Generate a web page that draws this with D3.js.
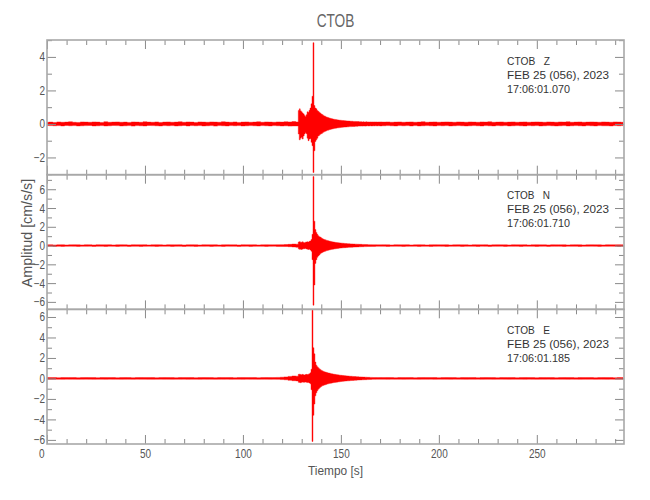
<!DOCTYPE html>
<html><head><meta charset="utf-8">
<script src="https://cdn.jsdelivr.net/npm/d3@7"></script>
<style>
body{margin:0;background:#fff;}
text{font-family:"Liberation Sans",Arial,sans-serif;}
.pre{white-space:pre;}
</style></head><body>
<svg id="c" width="650" height="500"></svg>
<script>
// ---------------- data ----------------
const title = "CTOB";
const components = ["Z", "N", "E"];
const station = "CTOB";
const dateLabel = "FEB 25 (056), 2023";
const startTimes = ["17:06:01.070", "17:06:01.710", "17:06:01.185"];
const xLabel = "Tiempo [s]";
const yLabel = "Amplitud [cm/s/s]";
const xDomain = [0, 294.5];
const xMajorTicks = [0, 50, 100, 150, 200, 250];
const xMinorStep = 10;
const yDomains = [[-3.03, 5.01], [-6.8, 7.55], [-6.4, 6.75]];
const yMajorTicks = [[-2, 0, 2, 4], [-6, -4, -2, 0, 2, 4, 6], [-6, -4, -2, 0, 2, 4, 6]];
// sample clocks of the three envelope segments (seconds)
const preStart = 0, preDt = 2;
const evStart = 128, evDt = 0.5;
const postStart = 170, postDt = 2;
// envelope samples: [max, min] in cm/s/s

const zPre = [[0.10,-0.09],[0.11,-0.10],[0.09,-0.11],[0.12,-0.10],[0.10,-0.12],[0.11,-0.09],[0.13,-0.11],[0.10,-0.10],
[0.09,-0.12],[0.12,-0.11],[0.11,-0.10],[0.10,-0.09],[0.12,-0.12],[0.11,-0.11],[0.09,-0.10],[0.13,-0.12],
[0.10,-0.11],[0.11,-0.09],[0.12,-0.10],[0.10,-0.12],[0.11,-0.11],[0.09,-0.10],[0.12,-0.13],[0.11,-0.10],
[0.10,-0.11],[0.13,-0.12],[0.11,-0.09],[0.10,-0.10],[0.12,-0.11],[0.09,-0.12],[0.11,-0.10],[0.12,-0.11],
[0.10,-0.10],[0.11,-0.12],[0.13,-0.11],[0.10,-0.09],[0.12,-0.12],[0.11,-0.10],[0.09,-0.11],[0.12,-0.10],
[0.11,-0.12],[0.10,-0.11],[0.12,-0.10],[0.11,-0.13],[0.10,-0.10],[0.13,-0.11],[0.11,-0.12],[0.10,-0.10],
[0.12,-0.11],[0.09,-0.10],[0.11,-0.12],[0.12,-0.11],[0.10,-0.10],[0.11,-0.11],[0.13,-0.12],[0.10,-0.10],
[0.12,-0.11],[0.11,-0.12],[0.10,-0.10],[0.12,-0.11],[0.11,-0.12],[0.13,-0.11],[0.12,-0.13],[0.14,-0.12]];
const zEvent = [[0.12,-0.12],[0.80,-0.60],[0.90,-0.95],[0.78,-0.85],[0.72,-0.80],[0.65,-0.90],[0.60,-0.72],[0.50,-0.60],
[0.45,-0.52],[0.55,-0.58],[0.72,-0.85],[0.70,-1.00],[0.82,-0.90],[0.95,-0.88],[1.20,-1.10],[1.65,-1.30],
[4.85,-2.90],[1.10,-1.60],[0.95,-1.05],[0.90,-0.95],[0.80,-0.85],[0.75,-0.72],[0.70,-0.68],[0.65,-0.62],
[0.60,-0.58],[0.56,-0.55],[0.52,-0.50],[0.48,-0.47],[0.46,-0.44],[0.42,-0.42],[0.40,-0.38],[0.38,-0.37],
[0.36,-0.35],[0.34,-0.33],[0.32,-0.31],[0.31,-0.30],[0.29,-0.29],[0.28,-0.27],[0.27,-0.26],[0.26,-0.25],
[0.25,-0.24],[0.24,-0.23],[0.23,-0.23],[0.22,-0.22],[0.22,-0.21],[0.21,-0.20],[0.20,-0.20],[0.20,-0.19],
[0.19,-0.19],[0.19,-0.18],[0.18,-0.18],[0.18,-0.17],[0.17,-0.17],[0.17,-0.16],[0.16,-0.16],[0.16,-0.16],
[0.16,-0.15],[0.15,-0.15],[0.15,-0.15],[0.15,-0.14],[0.14,-0.14],[0.14,-0.14],[0.14,-0.13],[0.13,-0.13],
[0.13,-0.13],[0.13,-0.12],[0.12,-0.13],[0.13,-0.12],[0.12,-0.12],[0.12,-0.13],[0.13,-0.12],[0.12,-0.11],
[0.12,-0.12],[0.11,-0.12],[0.12,-0.11],[0.11,-0.12],[0.12,-0.12],[0.11,-0.11],[0.12,-0.12],[0.11,-0.11],
[0.12,-0.11],[0.11,-0.12],[0.11,-0.11],[0.12,-0.11]];
const zPost = [[0.12,-0.12],[0.11,-0.11],[0.12,-0.10],[0.10,-0.11],[0.11,-0.12],[0.12,-0.10],[0.10,-0.11],[0.11,-0.10],[0.12,-0.12],
[0.10,-0.10],[0.11,-0.12],[0.13,-0.11],[0.10,-0.10],[0.11,-0.11],[0.12,-0.12],[0.10,-0.10],[0.11,-0.11],[0.12,-0.10],
[0.11,-0.12],[0.10,-0.11],[0.12,-0.10],[0.11,-0.11],[0.10,-0.12],[0.12,-0.11],[0.11,-0.10],[0.10,-0.11],[0.12,-0.12],
[0.11,-0.10],[0.13,-0.11],[0.10,-0.12],[0.11,-0.10],[0.12,-0.11],[0.10,-0.10],[0.11,-0.12],[0.12,-0.11],[0.10,-0.10],
[0.11,-0.11],[0.12,-0.12],[0.10,-0.10],[0.11,-0.11],[0.12,-0.10],[0.11,-0.12],[0.10,-0.11],[0.12,-0.10],[0.11,-0.11],
[0.10,-0.12],[0.12,-0.11],[0.11,-0.10],[0.13,-0.12],[0.10,-0.11],[0.11,-0.10],[0.12,-0.11],[0.10,-0.12],[0.11,-0.10],
[0.12,-0.11],[0.11,-0.12],[0.10,-0.10],[0.12,-0.11],[0.11,-0.11],[0.10,-0.12],[0.12,-0.10],[0.11,-0.11],[0.10,-0.10]];

const nPre = [[0.08,-0.08],[0.09,-0.07],[0.07,-0.09],[0.08,-0.08],[0.09,-0.09],[0.07,-0.08],[0.08,-0.07],[0.09,-0.08],
[0.08,-0.09],[0.07,-0.08],[0.09,-0.08],[0.08,-0.07],[0.07,-0.09],[0.09,-0.08],[0.08,-0.08],[0.08,-0.09],
[0.09,-0.07],[0.07,-0.08],[0.08,-0.09],[0.09,-0.08],[0.08,-0.07],[0.07,-0.09],[0.09,-0.08],[0.08,-0.08],
[0.08,-0.09],[0.09,-0.08],[0.07,-0.07],[0.08,-0.08],[0.09,-0.09],[0.08,-0.08],[0.07,-0.08],[0.09,-0.07],
[0.08,-0.09],[0.08,-0.08],[0.09,-0.08],[0.07,-0.09],[0.08,-0.07],[0.09,-0.08],[0.08,-0.09],[0.07,-0.08],
[0.09,-0.08],[0.08,-0.07],[0.08,-0.09],[0.09,-0.08],[0.07,-0.08],[0.08,-0.09],[0.09,-0.07],[0.08,-0.08],
[0.08,-0.08],[0.07,-0.09],[0.09,-0.08],[0.08,-0.07],[0.08,-0.09],[0.09,-0.08],[0.07,-0.08],[0.08,-0.08],
[0.09,-0.09],[0.08,-0.08],[0.08,-0.07],[0.09,-0.09],[0.10,-0.09],[0.11,-0.10],[0.13,-0.12],[0.16,-0.15]];
const nEvent = [[0.15,-0.18],[0.38,-0.35],[0.42,-0.40],[0.36,-0.38],[0.35,-0.42],[0.40,-0.36],[0.32,-0.34],[0.30,-0.33],
[0.36,-0.32],[0.38,-0.36],[0.40,-0.38],[0.37,-0.42],[0.45,-0.40],[0.50,-0.48],[0.65,-0.60],[1.20,-1.50],
[7.35,-6.35],[2.60,-4.20],[1.70,-1.90],[1.40,-1.50],[1.20,-1.25],[1.05,-1.10],[0.95,-1.00],[0.90,-0.88],
[0.82,-0.80],[0.75,-0.74],[0.70,-0.68],[0.65,-0.64],[0.62,-0.60],[0.58,-0.56],[0.55,-0.53],[0.52,-0.50],
[0.48,-0.47],[0.46,-0.45],[0.43,-0.42],[0.41,-0.40],[0.39,-0.38],[0.37,-0.36],[0.35,-0.35],[0.33,-0.33],
[0.32,-0.31],[0.30,-0.30],[0.29,-0.28],[0.28,-0.27],[0.27,-0.26],[0.26,-0.25],[0.25,-0.24],[0.24,-0.23],
[0.23,-0.22],[0.22,-0.22],[0.21,-0.21],[0.20,-0.20],[0.20,-0.19],[0.19,-0.19],[0.18,-0.18],[0.18,-0.17],
[0.17,-0.17],[0.16,-0.16],[0.16,-0.16],[0.15,-0.15],[0.15,-0.15],[0.14,-0.14],[0.14,-0.14],[0.13,-0.13],
[0.13,-0.13],[0.13,-0.12],[0.12,-0.12],[0.12,-0.12],[0.12,-0.11],[0.11,-0.11],[0.11,-0.11],[0.11,-0.10],
[0.10,-0.10],[0.10,-0.10],[0.10,-0.10],[0.10,-0.09],[0.09,-0.09],[0.09,-0.09],[0.09,-0.09],[0.09,-0.09],
[0.09,-0.08],[0.08,-0.08],[0.08,-0.08],[0.08,-0.08]];
const nPost = [[0.08,-0.08],[0.09,-0.08],[0.08,-0.09],[0.07,-0.08],[0.09,-0.07],[0.08,-0.08],[0.08,-0.09],[0.09,-0.08],[0.07,-0.08],
[0.08,-0.07],[0.09,-0.09],[0.08,-0.08],[0.07,-0.08],[0.08,-0.09],[0.09,-0.08],[0.08,-0.07],[0.08,-0.08],[0.09,-0.09],
[0.07,-0.08],[0.08,-0.08],[0.09,-0.07],[0.08,-0.09],[0.08,-0.08],[0.07,-0.08],[0.09,-0.08],[0.08,-0.09],[0.08,-0.07],
[0.09,-0.08],[0.07,-0.09],[0.08,-0.08],[0.09,-0.08],[0.08,-0.07],[0.08,-0.09],[0.07,-0.08],[0.09,-0.08],[0.08,-0.08],
[0.08,-0.09],[0.09,-0.07],[0.07,-0.08],[0.08,-0.08],[0.09,-0.09],[0.08,-0.08],[0.08,-0.07],[0.07,-0.09],[0.09,-0.08],
[0.08,-0.08],[0.08,-0.08],[0.09,-0.09],[0.07,-0.07],[0.08,-0.08],[0.09,-0.08],[0.08,-0.09],[0.07,-0.08],[0.08,-0.08],
[0.09,-0.07],[0.08,-0.08],[0.08,-0.09],[0.07,-0.08],[0.09,-0.08],[0.08,-0.07],[0.08,-0.08],[0.09,-0.09],[0.08,-0.08]];

const ePre = [[0.09,-0.08],[0.08,-0.09],[0.08,-0.08],[0.07,-0.08],[0.09,-0.09],[0.08,-0.07],[0.08,-0.08],[0.09,-0.08],
[0.07,-0.09],[0.08,-0.08],[0.09,-0.07],[0.08,-0.08],[0.08,-0.09],[0.07,-0.08],[0.09,-0.08],[0.08,-0.09],
[0.08,-0.07],[0.09,-0.08],[0.07,-0.08],[0.08,-0.09],[0.09,-0.08],[0.08,-0.08],[0.07,-0.09],[0.08,-0.07],
[0.09,-0.08],[0.08,-0.08],[0.08,-0.09],[0.09,-0.09],[0.07,-0.08],[0.08,-0.07],[0.09,-0.08],[0.08,-0.08],
[0.08,-0.09],[0.07,-0.08],[0.09,-0.08],[0.08,-0.07],[0.08,-0.09],[0.09,-0.08],[0.07,-0.08],[0.08,-0.09],
[0.09,-0.07],[0.08,-0.08],[0.08,-0.08],[0.07,-0.09],[0.09,-0.08],[0.08,-0.08],[0.08,-0.07],[0.09,-0.09],
[0.07,-0.08],[0.08,-0.08],[0.09,-0.09],[0.08,-0.07],[0.08,-0.08],[0.09,-0.08],[0.07,-0.09],[0.08,-0.08],
[0.09,-0.08],[0.08,-0.09],[0.08,-0.08],[0.10,-0.09],[0.12,-0.11],[0.15,-0.13],[0.20,-0.18],[0.24,-0.22]];
const eEvent = [[0.22,-0.24],[0.40,-0.38],[0.42,-0.40],[0.38,-0.42],[0.36,-0.38],[0.40,-0.35],[0.35,-0.37],[0.33,-0.36],
[0.38,-0.34],[0.40,-0.38],[0.38,-0.40],[0.42,-0.40],[0.45,-0.44],[0.55,-0.52],[0.90,-1.10],[6.65,-6.15],
[3.00,-3.60],[2.40,-2.50],[1.60,-1.70],[1.30,-1.40],[1.15,-1.20],[1.05,-1.05],[0.95,-0.95],[0.88,-0.86],
[0.80,-0.78],[0.75,-0.72],[0.70,-0.68],[0.66,-0.65],[0.63,-0.62],[0.60,-0.58],[0.57,-0.55],[0.54,-0.53],
[0.52,-0.50],[0.50,-0.48],[0.47,-0.46],[0.45,-0.44],[0.43,-0.42],[0.41,-0.40],[0.40,-0.39],[0.38,-0.37],
[0.36,-0.36],[0.35,-0.34],[0.34,-0.33],[0.32,-0.32],[0.31,-0.30],[0.30,-0.29],[0.29,-0.28],[0.28,-0.27],
[0.27,-0.26],[0.26,-0.25],[0.25,-0.24],[0.24,-0.23],[0.23,-0.23],[0.22,-0.22],[0.21,-0.21],[0.21,-0.20],
[0.20,-0.19],[0.19,-0.19],[0.18,-0.18],[0.18,-0.17],[0.17,-0.17],[0.16,-0.16],[0.16,-0.15],[0.15,-0.15],
[0.15,-0.14],[0.14,-0.14],[0.14,-0.13],[0.13,-0.13],[0.13,-0.12],[0.12,-0.12],[0.12,-0.12],[0.11,-0.11],
[0.11,-0.11],[0.11,-0.10],[0.10,-0.10],[0.10,-0.10],[0.10,-0.09],[0.09,-0.09],[0.09,-0.09],[0.09,-0.09],
[0.09,-0.08],[0.08,-0.08],[0.08,-0.08],[0.08,-0.08]];
const ePost = [[0.09,-0.08],[0.08,-0.08],[0.09,-0.09],[0.08,-0.07],[0.07,-0.08],[0.09,-0.08],[0.08,-0.09],[0.08,-0.08],[0.09,-0.07],
[0.07,-0.08],[0.08,-0.09],[0.09,-0.08],[0.08,-0.08],[0.08,-0.07],[0.09,-0.09],[0.07,-0.08],[0.08,-0.08],[0.09,-0.08],
[0.08,-0.09],[0.08,-0.07],[0.07,-0.08],[0.09,-0.08],[0.08,-0.09],[0.08,-0.08],[0.09,-0.08],[0.07,-0.07],[0.08,-0.09],
[0.09,-0.08],[0.08,-0.08],[0.08,-0.09],[0.07,-0.08],[0.09,-0.07],[0.08,-0.08],[0.08,-0.09],[0.09,-0.08],[0.07,-0.08],
[0.08,-0.08],[0.09,-0.09],[0.08,-0.07],[0.08,-0.08],[0.07,-0.09],[0.09,-0.08],[0.08,-0.08],[0.08,-0.07],[0.09,-0.09],
[0.07,-0.08],[0.08,-0.08],[0.09,-0.08],[0.08,-0.09],[0.08,-0.07],[0.07,-0.08],[0.09,-0.09],[0.08,-0.08],[0.08,-0.08],
[0.09,-0.07],[0.07,-0.09],[0.08,-0.08],[0.09,-0.08],[0.08,-0.09],[0.08,-0.07],[0.07,-0.08],[0.09,-0.08],[0.08,-0.08]];

// ---------------- layout ----------------
const plotLeft = 47, plotRight = 624;
const panelTops = [40, 174.7, 309.3];
const panelH = 134.7;
const axisColor = "#a8a8a8", tickColor = "#8a8a8a", labelColor = "#555";
const narrow = 0.8; // horizontal squeeze of the plot lettering

function buildTrace(pre, ev, post) {
  const pts = [];
  pre.forEach((v, i) => pts.push([preStart + i * preDt, v[0], v[1]]));
  ev.forEach((v, i) => pts.push([evStart + i * evDt, v[0], v[1]]));
  post.forEach((v, i) => pts.push([postStart + i * postDt, v[0], v[1]]));
  return pts;
}
const traces = [buildTrace(zPre, zEvent, zPost), buildTrace(nPre, nEvent, nPost), buildTrace(ePre, eEvent, ePost)];

const svg = d3.select("#c");
svg.append("rect").attr("width", 650).attr("height", 500).attr("fill", "#fff");
const x = d3.scaleLinear().domain(xDomain).range([plotLeft, plotRight]);
const xMinorTicks = d3.range(xDomain[0], xDomain[1], xMinorStep).filter(v => !xMajorTicks.includes(v));

function styleAxis(g) {
  g.select(".domain").remove();
  g.selectAll(".tick line").attr("stroke", tickColor).attr("stroke-width", 1);
  g.selectAll(".tick text").attr("fill", labelColor).style("font-size", "12.5px")
    .attr("transform", `scale(${narrow},1)`);
}

panelTops.forEach((top, i) => {
  const bottom = top + panelH;
  const y = d3.scaleLinear().domain(yDomains[i]).range([bottom, top]);
  const yMinor = d3.range(Math.ceil(yDomains[i][0]), Math.floor(yDomains[i][1]) + 1).filter(v => !yMajorTicks[i].includes(v));
  const g = svg.append("g");

  g.append("clipPath").attr("id", "clip" + i).append("rect")
    .attr("x", plotLeft).attr("y", top).attr("width", plotRight - plotLeft).attr("height", panelH);

  g.append("path").datum(traces[i])
    .attr("clip-path", `url(#clip${i})`)
    .attr("fill", "#ff0000").attr("stroke", "#ff0000").attr("stroke-width", 0.4)
    .attr("d", d3.area().curve(d3.curveStep).x(d => x(d[0])).y0(d => y(d[2])).y1(d => y(d[1])));

  const isLast = i === panelTops.length - 1;
  // bottom axis
  g.append("g").attr("transform", `translate(0,${bottom})`)
    .call(d3.axisBottom(x).tickValues(xMajorTicks).tickSize(-9).tickPadding(5.5)
      .tickFormat(isLast ? d3.format("d") : () => "")).call(styleAxis)
    .call(a => a.selectAll(".tick text").filter(d => d === 0).attr("x", -7));
  g.append("g").attr("transform", `translate(0,${bottom})`)
    .call(d3.axisBottom(x).tickValues(xMinorTicks).tickSize(-5).tickFormat(() => "")).call(styleAxis);
  // top axis
  g.append("g").attr("transform", `translate(0,${top})`)
    .call(d3.axisTop(x).tickValues(xMajorTicks).tickSize(-9).tickFormat(() => "")).call(styleAxis);
  g.append("g").attr("transform", `translate(0,${top})`)
    .call(d3.axisTop(x).tickValues(xMinorTicks).tickSize(-5).tickFormat(() => "")).call(styleAxis);
  // left axis (labels squeezed, so the padding is given in squeezed units)
  g.append("g").attr("transform", `translate(${plotLeft},0)`)
    .call(d3.axisLeft(y).tickValues(yMajorTicks[i]).tickSize(-9).tickPadding(2.5).tickFormat(d3.format("d"))).call(styleAxis);
  g.append("g").attr("transform", `translate(${plotLeft},0)`)
    .call(d3.axisLeft(y).tickValues(yMinor).tickSize(-5).tickFormat(() => "")).call(styleAxis);
  // right axis
  g.append("g").attr("transform", `translate(${plotRight},0)`)
    .call(d3.axisRight(y).tickValues(yMajorTicks[i]).tickSize(-9).tickFormat(() => "")).call(styleAxis);
  g.append("g").attr("transform", `translate(${plotRight},0)`)
    .call(d3.axisRight(y).tickValues(yMinor).tickSize(-5).tickFormat(() => "")).call(styleAxis);

  // frame
  g.append("rect").attr("x", plotLeft).attr("y", top).attr("width", plotRight - plotLeft).attr("height", panelH)
    .attr("fill", "none").attr("stroke", axisColor).attr("stroke-width", 1.6);

  // info text
  const lines = [`${station}   ${components[i]}`, dateLabel, startTimes[i]];
  const lineWidths = [43, 102, 63];
  lines.forEach((s, k) => {
    g.append("text").attr("class", "pre").attr("x", 507).attr("y", top + 24.5 + k * 14)
      .attr("fill", "#333").style("font-size", "11.5px")
      .attr("textLength", lineWidths[k]).attr("lengthAdjust", "spacingAndGlyphs").text(s);
  });
});

// titles
const cx = (plotLeft + plotRight) / 2;
svg.append("text").attr("transform", `translate(${cx},27) scale(0.72,1)`).attr("text-anchor", "middle")
  .attr("fill", "#666").style("font-size", "19px").text(title);
svg.append("text").attr("class", "pre").attr("transform", `translate(${cx},475) scale(0.88,1)`).attr("text-anchor", "middle")
  .attr("fill", "#555").style("font-size", "13.5px").text(xLabel);
svg.append("text").attr("transform", "translate(32,233) rotate(-90) scale(0.95,1)").attr("text-anchor", "middle")
  .attr("fill", "#555").style("font-size", "15px").text(yLabel);
</script>
</body></html>
